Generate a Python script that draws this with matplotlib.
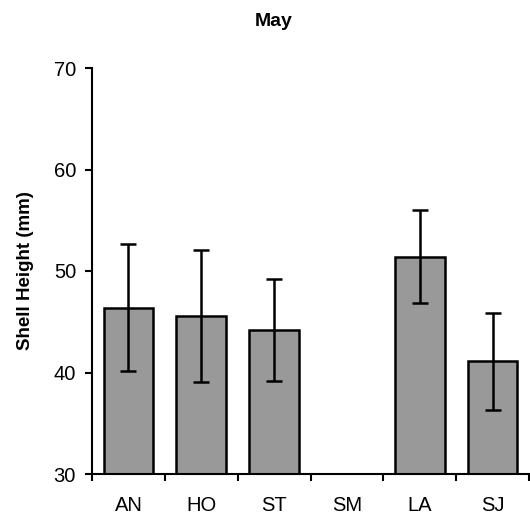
import matplotlib
matplotlib.use("Agg")
import matplotlib.pyplot as plt
import numpy as np

plt.rcParams["font.family"] = ["Liberation Sans", "DejaVu Sans"]

categories = ["AN", "HO", "ST", "SM", "LA", "SJ"]
means = [46.4, 45.6, 44.2, np.nan, 51.4, 41.1]
errors = [6.3, 6.5, 5.0, np.nan, 4.6, 4.8]
yticks = [30, 40, 50, 60, 70]

fig = plt.figure(figsize=(5.3, 5.25), dpi=100)
ax = fig.add_axes([92/530, 51/525, 437/530, 406/525])

x = np.arange(len(categories))
ax.bar(x, np.nan_to_num(means) - 30, bottom=30, width=0.68, color="#999999",
       edgecolor="black", linewidth=1.8, zorder=2)
ax.errorbar(x, means, yerr=errors, fmt="none", ecolor="black", elinewidth=1.8,
            capsize=5.5, capthick=1.8, zorder=3)

ax.set_xlim(-0.5, len(categories) - 0.5)
ax.set_ylim(30, 70)
ax.set_yticks(yticks)
ax.set_yticklabels([str(t) for t in yticks], fontsize=14.5)
ax.set_xticks(np.arange(len(categories) + 1) - 0.5)
ax.set_xticklabels([])
ax.set_xticks(x, minor=True)
ax.set_xticklabels(categories, minor=True, fontsize=14.5)
ax.tick_params(axis="x", which="minor", length=0, pad=16)
ax.tick_params(axis="x", which="major", length=5, width=1.5, direction="out")
ax.tick_params(axis="y", length=5, width=1.5, direction="out", pad=6.5)

for s in ["top", "right"]:
    ax.spines[s].set_visible(False)
for s in ["left", "bottom"]:
    ax.spines[s].set_linewidth(1.5)

ax.set_ylabel("Shell Height (mm)", fontsize=13.5, fontweight="bold", labelpad=14)
fig.text(274/530, 1 - 21/525, "May", ha="center", va="center", fontsize=14,
         fontweight="bold")

fig.savefig("out.png", dpi=100)
